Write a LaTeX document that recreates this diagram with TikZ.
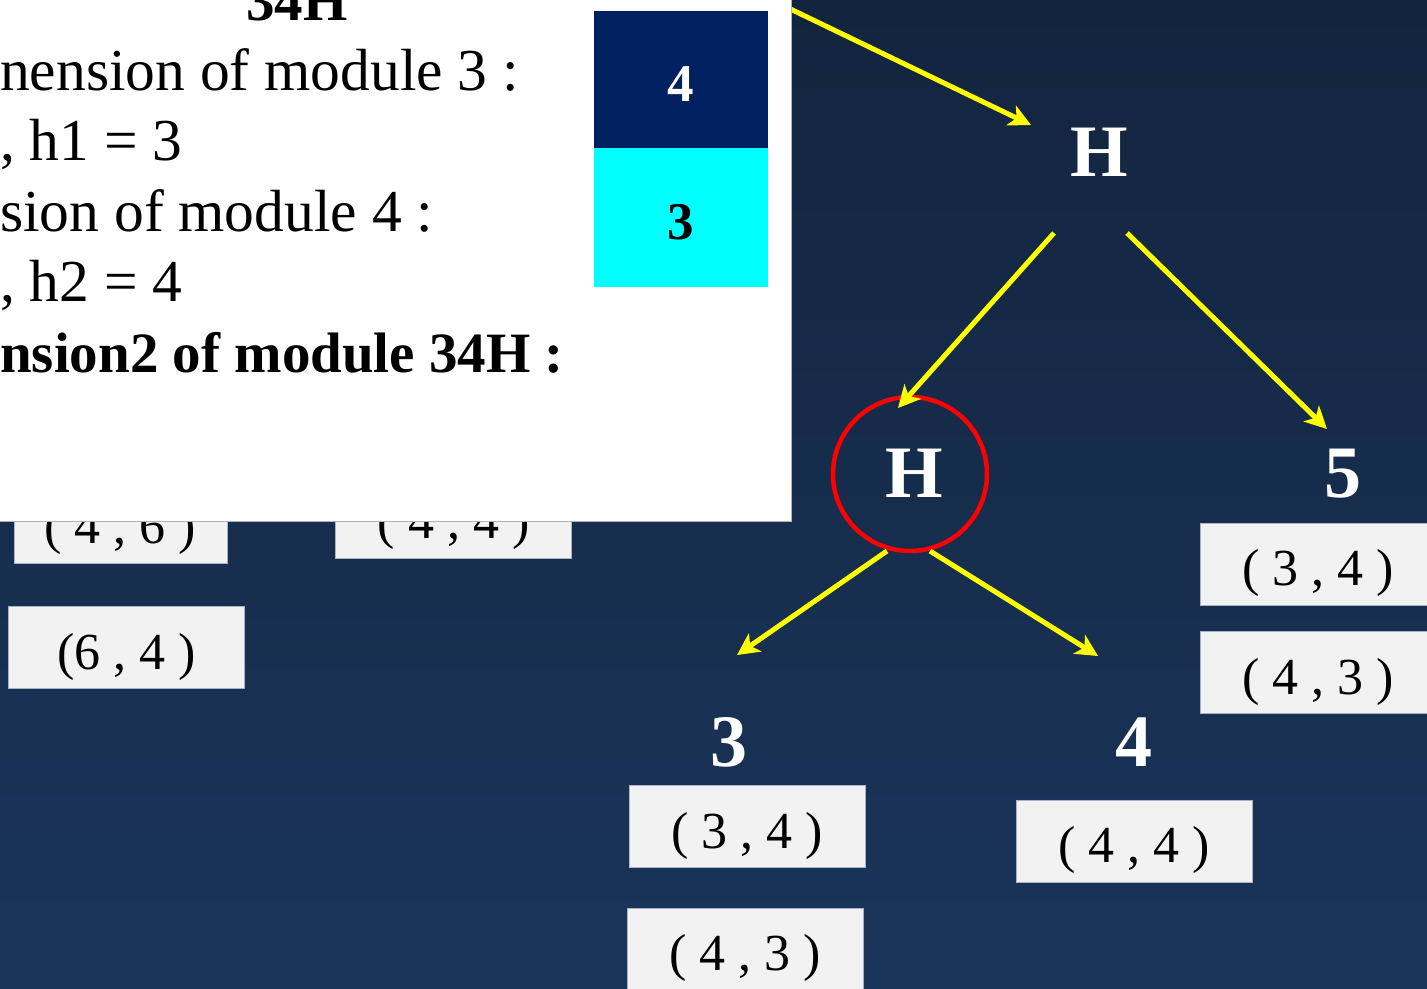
\documentclass[tikz,border=0pt]{standalone}
\usepackage{fontspec}
\setmainfont{Liberation Serif}
\usetikzlibrary{arrows.meta,calc}
\definecolor{bgtop}{RGB}{19,36,62}
\definecolor{bgbot}{RGB}{26,53,90}
\definecolor{navybox}{HTML}{002060}
\definecolor{cyanbox}{RGB}{0,255,255}
\definecolor{boxgray}{HTML}{F2F2F2}
\definecolor{boxedge}{HTML}{A9B4C4}
\definecolor{arrowyellow}{RGB}{255,255,0}
\definecolor{ringred}{RGB}{255,0,0}
\begin{document}
\begin{tikzpicture}[x=1pt,y=-1pt,
  pairbox/.style={fill=boxgray,draw=boxedge,line width=1pt,minimum width=236pt,
    inner ysep=0pt,text height=62.5pt,text depth=19.5pt,text=black,
    font=\fontsize{52}{60}\selectfont},
  treelab/.style={anchor=base,inner sep=0pt,text=white,font=\bfseries\fontsize{74}{80}\selectfont},
  ptxt/.style={anchor=base west,inner sep=0pt,text=black,font=\fontsize{59.5}{70}\selectfont},
  pbold/.style={inner sep=0pt,text=black,font=\bfseries\fontsize{57}{68}\selectfont},
  digit/.style={anchor=base,inner sep=0pt,font=\bfseries\fontsize{53}{60}\selectfont},
  arr/.style={draw=arrowyellow,line width=5pt,-{Stealth[length=22pt,width=22pt,inset=6pt]}}]
\useasboundingbox (0,0) rectangle (1427,988);
\clip (0,0) rectangle (1427,988);
% background
\shade[top color=bgtop,bottom color=bgbot] (0,0) rectangle (1427,988);

% left boxes (partly under the panel)
\node[pairbox,minimum width=213pt] (b46) at (120.5,522) {( 4 , 6 )};
\node[pairbox] (b44a) at (453.5,517) {( 4 , 4 )};
\node[pairbox] (b64) at (126.5,647.5) {(6 , 4 )};

% top incoming arrow (starts behind the panel)
\node[treelab] (Htop) at (1099.5,176) {H};
\coordinate (tin) at (780,4);
\draw[arr] (tin) -- ($(Htop.base)+(-68.5,-51)$);

% white panel
\path[fill=white,draw=boxedge,line width=1pt] (-2,-2) rectangle (791,521);
\node[pbold,anchor=base] (t0) at (297,20) {34H};
\node[ptxt] (t1) at (0,90) {nension of module 3 :};
\node[ptxt] (t2) at (0,160) {, h1 = 3};
\node[ptxt] (t3) at (0,231) {sion of module 4 :};
\node[ptxt] (t4) at (0,301) {, h2 = 4};
\node[pbold,anchor=base west] (t5) at (0,372) {nsion2 of module 34H :};

% stacked module box
\node[fill=navybox,minimum width=174pt,minimum height=137pt,inner sep=0pt,anchor=north west] (m4) at (594,11) {};
\node[fill=cyanbox,minimum width=174pt,minimum height=139pt,inner sep=0pt,anchor=north west] (m3) at (594,148) {};
\node[digit,text=white] (d4) at (681,101) {4};
\node[digit,text=black] (d3) at (681,239) {3};

% tree
\node[circle,draw=ringred,line width=4.5pt,minimum size=154pt,inner sep=0pt] (circ) at (910,474) {};
\node[treelab] (Hc) at (914,497) {H};
\node[treelab] (n5) at (1343,497) {5};
\node[treelab] (n3) at (729,766) {3};
\node[treelab] (n4) at (1134,766) {4};

\draw[arr] ($(Htop.base)+(-45.5,57)$) -- ($(circ.center)+(-12,-66)$);
\draw[arr] ($(Htop.base)+(27.5,57)$) -- ($(n5.base)+(-16,-68)$);
\draw[arr] ($(circ.center)+(-23,77)$) -- ($(n3.base)+(8,-111)$);
\draw[arr] ($(circ.center)+(20,77)$) -- ($(n4.base)+(-36,-110)$);

% pair boxes
\node[pairbox] (b5a) at (1318,564) {( 3 , 4 )};
\node[pairbox] (b5b) at (1318,672.5) {( 4 , 3 )};
\node[pairbox] (b3a) at (747,826.5) {( 3 , 4 )};
\node[pairbox] (b3b) at (745,949) {( 4 , 3 )};
\node[pairbox] (b44b) at (1134,841) {( 4 , 4 )};
\end{tikzpicture}
\end{document}
